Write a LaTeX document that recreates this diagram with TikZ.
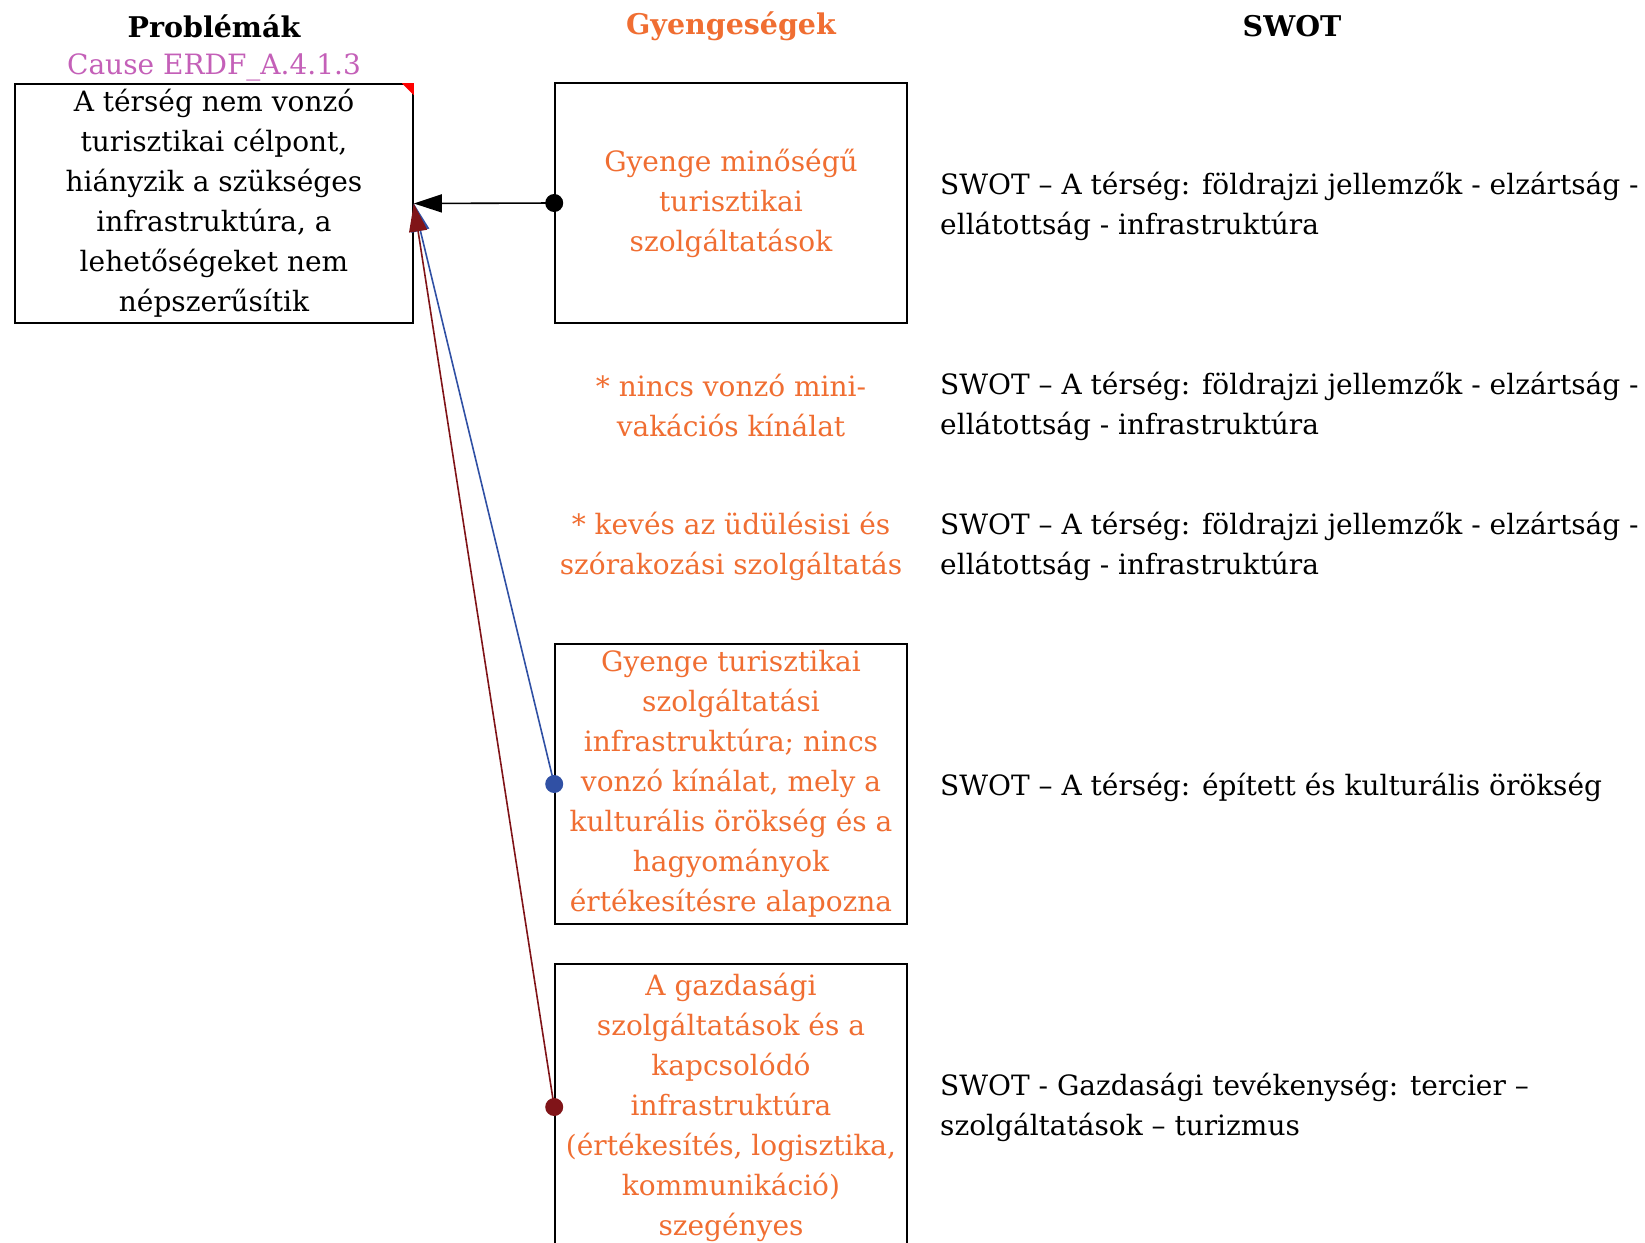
\documentclass[tikz,border=0pt]{standalone}
\usepackage{fontspec}
\setmainfont{DejaVu Serif}
\usetikzlibrary{arrows.meta}
\definecolor{orangetxt}{RGB}{240,110,50}
\definecolor{pinktxt}{RGB}{196,96,184}
\definecolor{blueln}{RGB}{48,80,164}
\definecolor{redln}{RGB}{128,20,24}
\tikzset{
  body/.style={font=\fontsize{28}{40}\selectfont, align=center, inner sep=0pt},
  head/.style={font=\fontsize{28.5}{40}\selectfont\bfseries, inner sep=0pt},
  box/.style={body, draw=black, line width=1.6pt, minimum width=#1},
  weak/.style={text=orangetxt},
  swot/.style={font=\fontsize{28}{40}\selectfont, align=left, anchor=west, inner sep=0pt},
  link/.style={line width=1.6pt, -{Triangle[length=28pt,width=18pt]}},
  dotr/.style={radius=9pt},
}
\begin{document}
\begin{tikzpicture}[x=1pt,y=-1pt]
\useasboundingbox (0,0) rectangle (1645,1242);
% headers
\node[head] (hp) at (214,26) {Problémák};
\node[head, text=orangetxt] (hg) at (731,26) {Gyengeségek};
\node[head] (hs) at (1292,26) {SWOT};
\node[body, text=pinktxt] (cause) at (214,67) {Cause ERDF\_A.4.1.3};
% problem box
\node[box=398pt, minimum height=239pt] (prob) at (214,203.5)
  {A térség nem vonzó\\turisztikai célpont,\\hiányzik a szükséges\\infrastruktúra, a\\lehetőségeket nem\\népszerűsítik};
\fill[red] (prob.north east) ++(-12,0) -- (prob.north east) -- ++(0,12) -- cycle;
% weakness column
\node[box=352pt, minimum height=240pt, weak] (w1) at (731,203)
  {Gyenge minőségű\\turisztikai\\szolgáltatások};
\node[body, weak] (w2) at (731,405) {* nincs vonzó mini-\\vakációs kínálat};
\node[body, weak] (w3) at (731,546) {* kevés az üdülésisi és\\szórakozási szolgáltatás};
\node[box=352pt, minimum height=280pt, weak] (w4) at (731,784)
  {Gyenge turisztikai\\szolgáltatási\\infrastruktúra; nincs\\vonzó kínálat, mely a\\kulturális örökség és a\\hagyományok\\értékesítésre alapozna};
\node[box=352pt, minimum height=286pt, weak] (w5) at (731,1107)
  {A gazdasági\\szolgáltatások és a\\kapcsolódó\\infrastruktúra\\(értékesítés, logisztika,\\kommunikáció)\\szegényes};
% SWOT column
\node[swot] (s1) at (940,206) {SWOT – A térség: földrajzi jellemzők - elzártság -\\ellátottság - infrastruktúra};
\node[swot] (s2) at (940,406) {SWOT – A térség: földrajzi jellemzők - elzártság -\\ellátottság - infrastruktúra};
\node[swot] (s3) at (940,546) {SWOT – A térség: földrajzi jellemzők - elzártság -\\ellátottság - infrastruktúra};
\node[swot] (s4) at (940,787) {SWOT – A térség: épített és kulturális örökség};
\node[swot] (s5) at (940,1107) {SWOT - Gazdasági tevékenység: tercier –\\szolgáltatások – turizmus};
% connectors
\draw[link, draw=black, fill=black] (w1.west) -- (prob.east);
\draw[link, draw=blueln, fill=blueln] (w4.west) -- (prob.east);
\draw[link, draw=redln, fill=redln] (w5.west) -- (prob.east);
\fill[black] (w1.west) circle[dotr];
\fill[blueln] (w4.west) circle[dotr];
\fill[redln] (w5.west) circle[dotr];
\end{tikzpicture}
\end{document}
